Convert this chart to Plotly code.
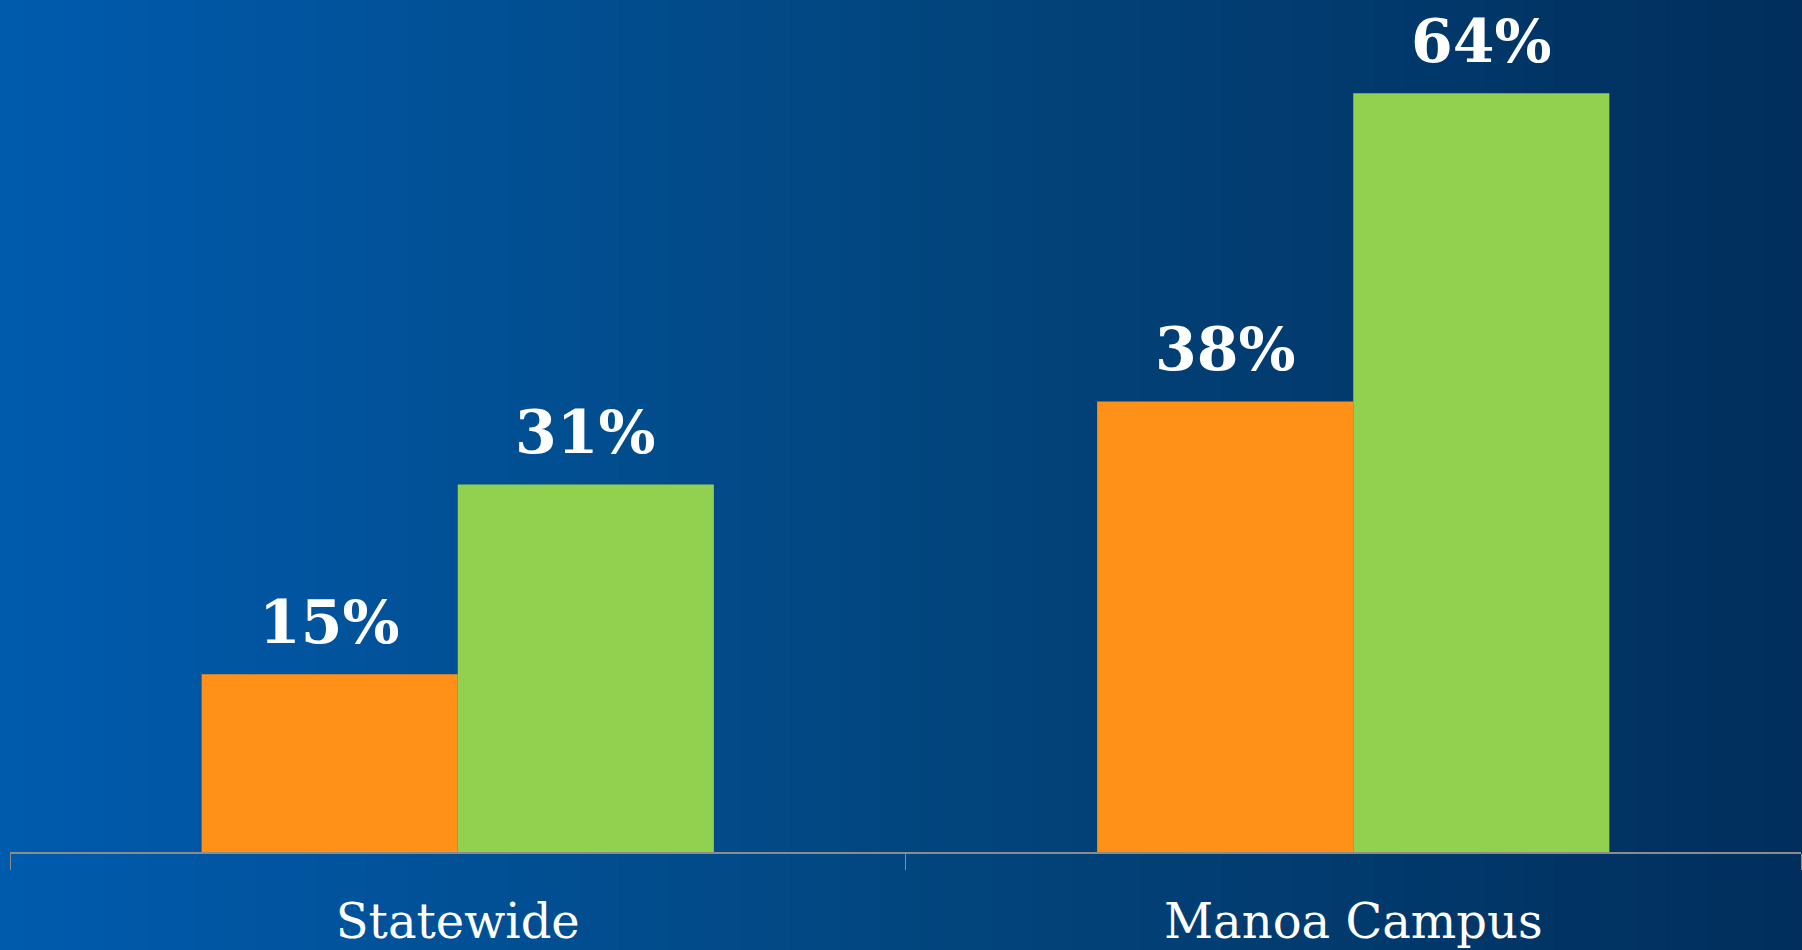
import plotly.graph_objects as go

categories = ["Statewide", "Manoa Campus"]
series_a = [15, 38]   # orange
series_b = [31, 64]   # green
labels_a = ["15%", "38%"]
labels_b = ["31%", "64%"]

W, H = 1802, 950
ml, mr, mt, mb = 10, 1, 22, 95
pw = W - ml - mr
ph = H - mt - mb

fig = go.Figure()
fig.add_trace(go.Bar(x=categories, y=series_a, name="a", marker_color="#FF9119",
                     marker_line_width=0))
fig.add_trace(go.Bar(x=categories, y=series_b, name="b", marker_color="#92D050",
                     marker_line_width=0))

# value labels above each bar
for i, cat in enumerate(categories):
    for k, (vals, labs) in enumerate([(series_a, labels_a), (series_b, labels_b)]):
        fig.add_annotation(x=cat, y=vals[i], text=labs[i], showarrow=False,
                           xshift=(-128 if k == 0 else 128), yshift=15,
                           yanchor="bottom",
                           font=dict(family="DejaVu Serif", size=60, color="white",
                                     weight="bold"))

# horizontal gradient background
left = (0, 91, 174)
mid = (2, 70, 127)
right = (1, 46, 92)
n = 180
x_lo = -(ml + 5) / pw
x_hi = 1 + (mr + 5) / pw
shapes = []
for j in range(n):
    t = j / (n - 1)
    if t < 0.5:
        a, b, u = left, mid, t / 0.5
    else:
        a, b, u = mid, right, (t - 0.5) / 0.5
    c = tuple(round(a[q] + (b[q] - a[q]) * u) for q in range(3))
    x0 = x_lo + (x_hi - x_lo) * j / n
    x1 = x_lo + (x_hi - x_lo) * (j + 1) / n
    shapes.append(dict(type="rect", xref="paper", yref="paper", x0=x0, x1=x1 + 0.002,
                       y0=-(mb + 20) / ph, y1=1 + (mt + 20) / ph, layer="below",
                       line_width=0, fillcolor="rgb(%d,%d,%d)" % c))
fig.update_layout(shapes=shapes)

fig.update_layout(
    width=W, height=H,
    margin=dict(l=ml, r=mr, t=mt, b=mb),
    barmode="group", bargap=0.428, bargroupgap=0,
    showlegend=False,
    paper_bgcolor="#02467F", plot_bgcolor="rgba(0,0,0,0)",
    xaxis=dict(showline=True, linecolor="#8c8c8c", linewidth=2,
               ticks="outside", tickson="boundaries", ticklen=16, tickcolor="#8c8c8c",
               tickwidth=1, ticklabelstandoff=26,
               tickfont=dict(family="DejaVu Serif", size=48, color="white"),
               showgrid=False),
    yaxis=dict(range=[0, 70], visible=False, showgrid=False, zeroline=False),
)

fig.write_html("out.html", config={"displayModeBar": False},
               post_script="document.body.style.margin='0';document.body.style.overflow='hidden';"
                           "document.body.style.background='#01305e';")
